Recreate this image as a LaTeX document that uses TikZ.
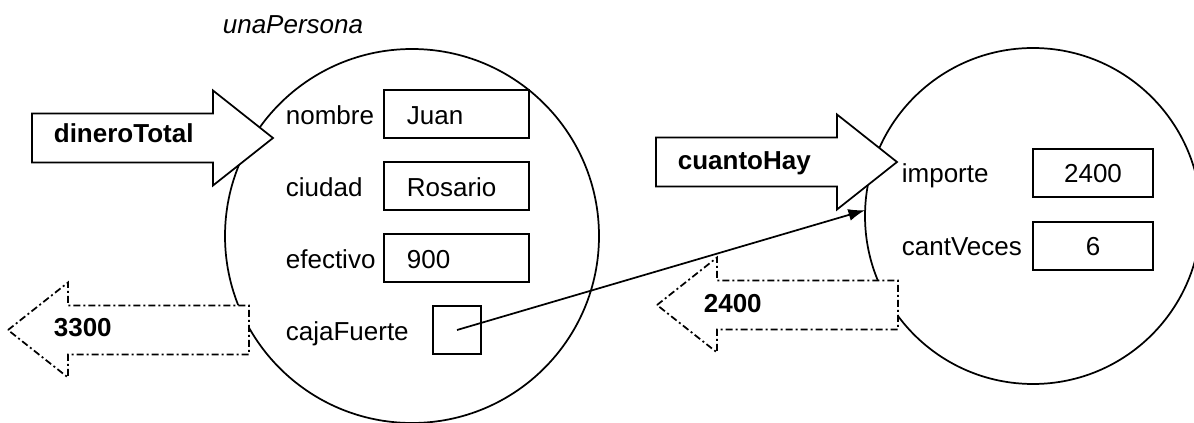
\documentclass[tikz,border=0pt]{standalone}
\usepackage{fontspec}
\setmainfont{Liberation Sans}
\usetikzlibrary{arrows.meta}
\newcommand{\tamano}{\fontsize{19.5pt}{23pt}\selectfont}

\begin{document}
\begin{tikzpicture}[
        x=0.75pt, y=-0.75pt,
        font=\tamano,
        line width=1.3pt,
        objeto/.style={circle, draw, inner sep=0pt, outer sep=0pt},
        flecha/.style={fill=white, line join=miter},
        resultado/.style={flecha, dash pattern=on 5.25pt off 2.25pt on 1.5pt off 2.25pt},
        caja/.style={draw, rectangle, inner sep=0pt, outer sep=0pt, minimum height=36pt},
        texto/.style={inner sep=0pt, anchor=base west},
        mensaje/.style={texto, font=\tamano\bfseries},
        puntero/.style={-{Latex[length=12.5pt, width=9pt]}}
    ]
    \useasboundingbox (0,0) rectangle (1194,423);

    % Objects
    \node[objeto, minimum size=280.5pt] (persona) at (412,236) {};
    \node[objeto, minimum size=252pt] (cuenta) at (1033,216) {};
    \node[texto, font=\tamano\itshape] (titulo) at (222,34) {unaPersona};

    % Messages in, answers out
    \foreach \tx/\ty/\dir/\estilo in {273/138/1/flecha, 897/162/1/flecha,
                                      8/330/-1/resultado, 657/305/-1/resultado} {
        \begin{scope}[shift={(\tx,\ty)}, xscale=\dir]
            \draw[\estilo] (0,0) -- (-60,-47.5) -- (-60,-24.5) -- (-241,-24.5)
                -- (-241,24.5) -- (-60,24.5) -- (-60,47.5) -- cycle;
        \end{scope}
    }
    \node[mensaje] (dineroTotal) at (53,143) {dineroTotal};
    \node[mensaje] (cuantoHay) at (677,170) {cuantoHay};
    \node[mensaje] (res3300) at (53,337) {3300};
    \node[mensaje] (res2400) at (703,313) {2400};

    % Fields of unaPersona
    \foreach \y/\campo/\valor in {90/nombre/Juan, 162/ciudad/Rosario, 234/efectivo/900} {
        \node[caja, minimum width=108.75pt, anchor=north west] (caja-\campo) at (384,\y) {};
        \node[texto] (lbl-\campo) at (285,\y+35) {\campo};
        \node[texto] (val-\campo) at (406,\y+35) {\valor};
    }
    \node[caja, minimum width=36pt, anchor=north west] (cajaFuerte) at (433,306) {};
    \node[texto] (lbl-cajaFuerte) at (285,341) {cajaFuerte};

    % Fields of the other object
    \foreach \y/\campo/\valor in {149/importe/2400, 222/cantVeces/6} {
        \node[caja, minimum width=90pt, anchor=north west] (caja-\campo) at (1033,\y) {};
        \node[texto] (lbl-\campo) at (901,\y+34) {\campo};
        \node[texto, anchor=base] (val-\campo) at (1093,\y+34) {\valor};
    }

    \draw[puntero] (cajaFuerte.center) -- (cuenta.178);
\end{tikzpicture}
\end{document}
